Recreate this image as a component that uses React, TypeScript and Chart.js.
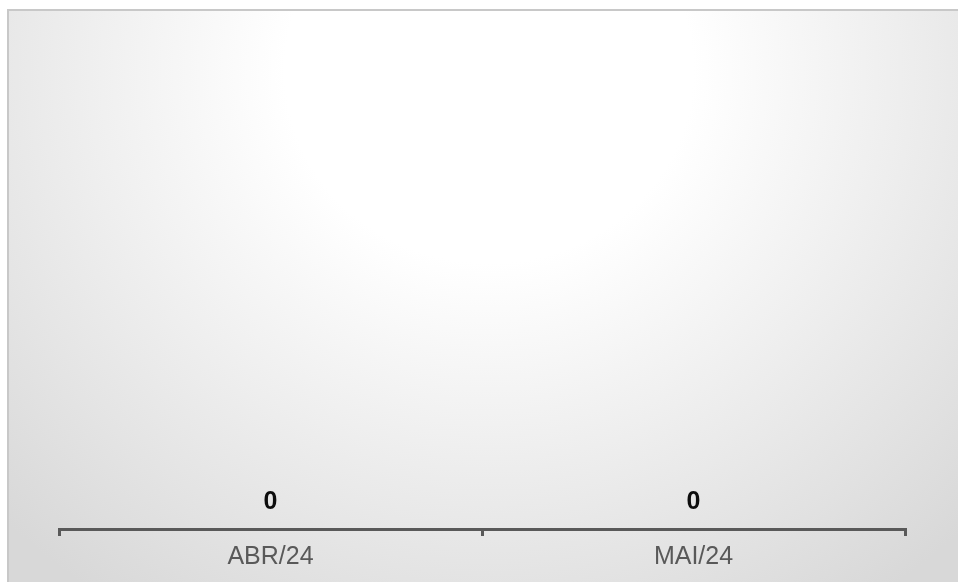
import React, { useEffect, useRef } from "react";
import { Chart, registerables } from "chart.js";

Chart.register(...registerables);

const categories: string[] = ["ABR/24", "MAI/24"];
const values: number[] = [0, 0];

const FONT = "'Liberation Sans', Arial, sans-serif";

const valueLabelPlugin = {
  id: "valueLabels",
  afterDatasetsDraw(chart: any) {
    const ctx = chart.ctx;
    const meta = chart.getDatasetMeta(0);
    ctx.save();
    ctx.font = `bold 25px ${FONT}`;
    ctx.fillStyle = "#0d0d0d";
    ctx.textAlign = "center";
    ctx.textBaseline = "alphabetic";
    meta.data.forEach((el: any, i: number) => {
      const v = chart.data.datasets[0].data[i];
      ctx.fillText(String(v), el.x, el.y - 20);
    });
    ctx.restore();
  },
};

export default function App() {
  const canvasRef = useRef<HTMLCanvasElement | null>(null);

  useEffect(() => {
    if (!canvasRef.current) return;
    const chart = new Chart(canvasRef.current, {
      type: "bar",
      data: {
        labels: categories,
        datasets: [
          {
            data: values,
            backgroundColor: "#4472c4",
            borderWidth: 0,
          },
        ],
      },
      options: {
        animation: false,
        responsive: true,
        maintainAspectRatio: false,
        layout: { padding: { left: 50, right: 53, top: 20, bottom: 4 } },
        plugins: {
          legend: { display: false },
          tooltip: { enabled: false },
        },
        scales: {
          x: {
            offset: true,
            grid: {
              offset: true,
              drawOnChartArea: false,
              drawTicks: true,
              tickLength: 7,
              tickWidth: 3,
              tickColor: "#595959",
              color: "#595959",
              lineWidth: 3,
            },
            border: { display: true, color: "#595959", width: 3 },
            ticks: {
              color: "#595959",
              padding: 6,
              font: { family: FONT, size: 25 },
            },
          },
          y: {
            display: false,
            min: 0,
            max: 1,
          },
        },
      },
      plugins: [valueLabelPlugin],
    });
    return () => chart.destroy();
  }, []);

  return (
    <div
      style={{
        position: "absolute",
        left: 7,
        top: 9,
        width: 951,
        height: 573,
        boxSizing: "border-box",
        borderTop: "2px solid #c8c8c8",
        borderLeft: "2px solid #c8c8c8",
        background:
          "radial-gradient(ellipse 680px 640px at 480px 60px, #ffffff 0%, #ffffff 30%, #d8d8d8 100%)",
      }}
    >
      <div style={{ position: "relative", width: 949, height: 571 }}>
        <canvas ref={canvasRef} />
      </div>
    </div>
  );
}
